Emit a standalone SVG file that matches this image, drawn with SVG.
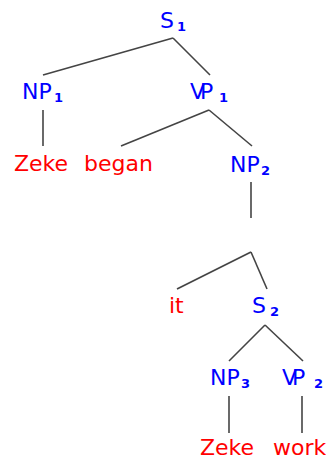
<svg xmlns="http://www.w3.org/2000/svg" width="326" height="459" viewBox="0 0 326 459">
<style>
.c{fill:#0000ff;font-family:"DejaVu Sans",sans-serif;font-size:22px}
.w{fill:#ff0000;font-family:"DejaVu Sans",sans-serif;font-size:22px}
.s{font-size:13px;font-weight:bold;letter-spacing:0}
.v{letter-spacing:-5px}
.e line{stroke:#444;stroke-width:1.6}
</style>
<rect width="326" height="459" fill="#fff"/>
<g id="edges" class="e">
<line x1="173" y1="38" x2="43" y2="75"/>
<line x1="173" y1="38" x2="210" y2="75"/>
<line x1="43" y1="110" x2="43" y2="146"/>
<line x1="209" y1="110" x2="121" y2="146"/>
<line x1="209" y1="110" x2="252" y2="146"/>
<line x1="251" y1="182" x2="251" y2="218"/>
<line x1="251" y1="252" x2="177" y2="289"/>
<line x1="251" y1="252" x2="267" y2="289"/>
<line x1="265" y1="325" x2="229" y2="361"/>
<line x1="265" y1="325" x2="303" y2="361"/>
<line x1="229" y1="396" x2="229" y2="433"/>
<line x1="302" y1="396" x2="302" y2="433"/>
</g>
<g id="S1"><text class="c" x="160" y="28">S<tspan class="s" x="177" y="31">1</tspan></text></g>
<g id="NP1"><text class="c" x="22" y="99">NP<tspan class="s" x="54" y="102">1</tspan></text></g>
<g id="VP1"><text class="c v" x="190" y="99">VP<tspan class="s" x="219" y="102">1</tspan></text></g>
<g id="Zeke1"><text class="w" x="14" y="171">Zeke</text></g>
<g id="began"><text class="w" x="84" y="171">began</text></g>
<g id="NP2"><text class="c" x="230" y="172">NP<tspan class="s" x="261" y="175">2</tspan></text></g>
<g id="it"><text class="w" x="169" y="313">it</text></g>
<g id="S2"><text class="c" x="252" y="313">S<tspan class="s" x="270" y="316">2</tspan></text></g>
<g id="NP3"><text class="c" x="210" y="385">NP<tspan class="s" x="241" y="388">3</tspan></text></g>
<g id="VP2"><text class="c v" x="282" y="385">VP<tspan class="s" x="314" y="388">2</tspan></text></g>
<g id="Zeke2"><text class="w" x="200" y="455">Zeke</text></g>
<g id="work"><text class="w" x="273" y="455">work</text></g>
</svg>
